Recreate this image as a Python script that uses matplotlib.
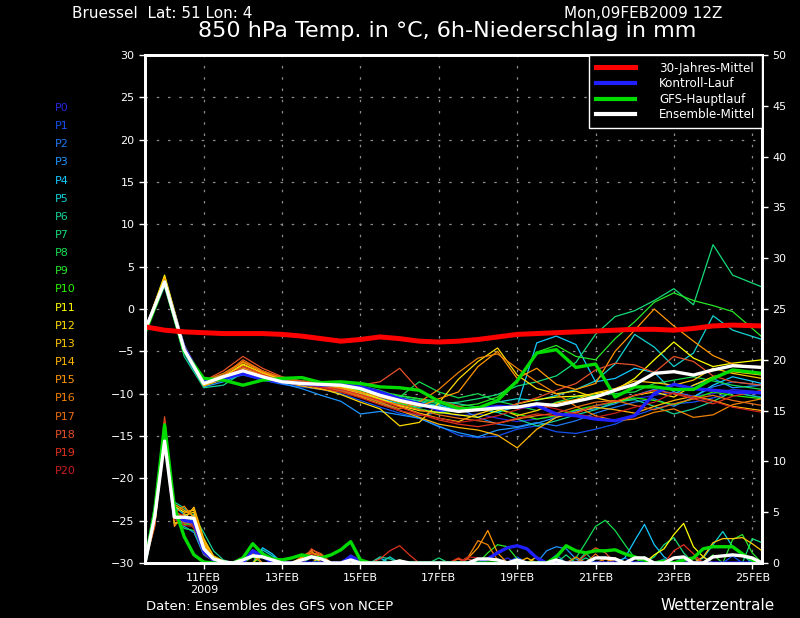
import numpy as np
import matplotlib
matplotlib.use("Agg")
import matplotlib.pyplot as plt
from matplotlib.lines import Line2D

# time axis: hours after Mon 09FEB2009 12Z
hours = np.append(np.arange(0, 361, 12), 378)
rain_hours = np.arange(0, 379, 6)
tick_hours = [36, 84, 132, 180, 228, 276, 324, 372]
tick_labels = ["11FEB\n2009", "13FEB", "15FEB", "17FEB", "19FEB", "21FEB", "23FEB", "25FEB"]

member_names = ["P%d" % i for i in range(21)]
member_colors = ["#2828dc", "#1450f0", "#1e78f0", "#1e96ff", "#14c8ff", "#14d2d2", "#14d296",
                 "#14dc78", "#14dc50", "#28e628", "#28f000", "#ffff00", "#ffdc00", "#ffc800",
                 "#ffb400", "#ff9600", "#f08200", "#eb6e14", "#e65028", "#e1321e", "#c81e1e"]

# 850 hPa temperature (deg C) of the ensemble members
ens_temp = [
    [-2.5, 3.0, -4.5, -8.9, -8.2, -7.5, -8.2, -8.7, -9.0, -9.3, -9.5, -9.8, -10.5, -11.0, -11.8, -12.2, -12.6, -12.4, -12.9, -13.3, -13.0, -12.7, -12.0, -11.5, -11.0, -10.6, -10.2, -9.8, -10.3, -10.0, -9.5, -9.8],
    [-2.6, 2.8, -4.2, -9.0, -8.4, -7.8, -8.4, -8.9, -9.2, -9.5, -10.0, -10.8, -11.6, -12.3, -12.9, -13.8, -14.9, -15.2, -15.0, -14.2, -13.8, -14.5, -14.7, -14.2, -13.6, -12.6, -11.8, -11.2, -11.0, -10.5, -9.9, -10.4],
    [-2.4, 3.1, -4.6, -8.7, -8.1, -7.2, -7.9, -8.5, -8.9, -9.2, -9.6, -10.2, -11.0, -12.0, -12.6, -12.2, -11.7, -12.8, -13.6, -13.9, -13.4, -13.8, -13.2, -12.3, -11.6, -11.0, -10.6, -11.5, -10.4, -9.2, -8.6, -9.0],
    [-2.5, 2.9, -5.2, -9.2, -8.6, -7.6, -8.3, -8.8, -9.4, -10.2, -10.9, -12.4, -12.1, -12.5, -12.9, -13.9, -14.6, -15.1, -14.3, -14.0, -13.5, -12.8, -12.0, -11.8, -11.2, -10.2, -9.5, -10.0, -9.0, -8.2, -9.3, -9.0],
    [-2.4, 3.3, -4.9, -9.0, -8.3, -7.0, -7.8, -8.6, -9.0, -9.1, -9.4, -10.0, -10.6, -11.2, -11.6, -11.3, -12.0, -11.8, -12.2, -11.5, -4.0, -3.2, -4.2, -8.6, -8.2, -7.0, -7.5, -9.8, -10.4, -9.0, -8.0, -8.8],
    [-2.5, 3.4, -4.7, -8.5, -7.8, -7.1, -7.9, -8.4, -8.6, -8.8, -9.1, -9.6, -10.1, -10.5, -10.9, -11.5, -12.0, -11.6, -11.0, -10.6, -10.8, -10.2, -9.5, -8.5, -6.5, -3.0, -4.5, -6.8, -5.2, -0.8, -2.5, -3.6],
    [-2.6, 3.0, -5.6, -9.3, -9.0, -7.5, -8.1, -8.7, -8.8, -8.6, -8.9, -9.4, -9.9, -10.3, -10.6, -10.9, -11.2, -11.6, -12.2, -13.0, -13.8, -13.2, -12.5, -11.9, -11.0, -10.7, -11.5, -12.4, -11.8, -10.9, -9.8, -10.5],
    [-2.5, 3.1, -4.9, -8.8, -7.9, -7.0, -7.8, -8.4, -8.7, -8.9, -9.1, -9.5, -10.0, -10.5, -10.8, -11.2, -11.0, -10.6, -10.1, -9.1, -8.6, -7.9, -6.3, -3.0, -0.9, -0.2, 1.0, 2.4, 0.5, 7.6, 4.0, 2.6],
    [-2.4, 3.2, -4.5, -8.6, -8.0, -7.4, -8.1, -8.5, -8.6, -8.7, -8.8, -9.1, -9.6, -10.4, -8.6, -9.8, -10.5, -10.0, -10.9, -11.4, -12.0, -11.0, -10.4, -10.2, -10.0, -9.8, -8.8, -8.4, -8.0, -8.5, -9.0, -9.5],
    [-2.5, 3.0, -4.7, -8.7, -8.0, -7.2, -7.8, -8.3, -8.5, -8.7, -8.9, -9.3, -9.8, -10.2, -10.6, -11.1, -11.5, -11.2, -10.4, -8.4, -5.1, -4.3, -5.6, -6.0, -3.5, -1.5, 0.8, 1.9, 1.0, 0.4, -0.3, -3.3],
    [-2.5, 3.0, -4.7, -8.9, -8.1, -7.2, -7.9, -8.4, -8.8, -9.0, -9.2, -9.6, -10.3, -11.1, -11.8, -12.3, -12.0, -11.5, -11.9, -12.4, -13.0, -12.6, -11.9, -11.4, -11.0, -10.5, -10.8, -11.3, -10.6, -9.8, -10.2, -10.6],
    [-2.5, 4.0, -4.3, -9.0, -8.0, -6.5, -7.6, -8.3, -8.6, -8.9, -9.2, -9.8, -10.6, -11.4, -12.0, -12.2, -12.5, -12.8, -12.0, -11.2, -10.7, -10.4, -10.3, -10.0, -9.6, -8.2, -6.0, -3.9, -5.8, -6.8, -6.4, -6.0],
    [-2.5, 3.6, -4.4, -8.7, -7.9, -6.8, -7.7, -8.4, -8.8, -9.4, -10.1, -11.0, -11.8, -13.8, -13.4, -11.1, -8.3, -6.2, -4.6, -7.8, -9.4, -10.0, -9.7, -10.5, -11.0, -10.2, -9.8, -10.4, -9.0, -8.0, -7.4, -7.8],
    [-2.4, 3.8, -4.6, -8.8, -8.1, -6.6, -7.5, -8.3, -8.7, -9.1, -9.4, -10.0, -10.7, -11.5, -12.3, -12.9, -13.3, -12.4, -11.7, -12.6, -12.0, -11.1, -10.7, -9.9, -9.4, -8.5, -8.7, -9.0, -8.4, -7.0, -7.6, -8.2],
    [-2.6, 3.5, -4.9, -9.1, -8.3, -7.0, -7.8, -8.6, -9.1, -9.5, -9.8, -10.4, -11.2, -12.0, -12.8, -13.6, -14.0, -14.3, -14.9, -16.4, -14.2, -12.8, -12.2, -11.6, -11.9, -12.3, -11.5, -10.8, -10.3, -10.8, -11.5, -12.0],
    [-2.5, 3.6, -4.5, -8.6, -7.8, -6.3, -7.4, -8.2, -8.7, -9.0, -9.3, -9.8, -10.4, -11.0, -11.5, -10.6, -9.8, -6.8, -5.0, -8.2, -7.0, -8.9, -9.5, -8.8, -5.0, -2.5, 0.0, -2.0, -3.8, -5.5, -6.5, -7.0],
    [-2.5, 3.4, -4.3, -8.5, -7.6, -6.2, -7.3, -8.1, -8.6, -9.0, -9.5, -10.2, -11.0, -11.8, -11.0, -9.5, -7.5, -5.8, -5.3, -7.0, -8.6, -10.0, -11.5, -12.6, -13.2, -13.0, -12.2, -11.8, -12.8, -12.5, -11.3, -10.6],
    [-2.6, 3.3, -4.7, -8.8, -7.9, -6.0, -7.3, -8.2, -8.7, -9.2, -9.7, -10.3, -10.9, -11.3, -11.9, -12.5, -12.9, -13.2, -13.5, -13.0, -12.6, -12.3, -11.6, -11.0, -10.8, -11.4, -11.9, -11.2, -10.6, -10.2, -10.8, -11.4],
    [-2.5, 3.3, -4.4, -8.5, -7.3, -5.6, -7.0, -8.0, -8.5, -8.7, -8.9, -9.0, -8.6, -7.0, -9.6, -10.8, -11.5, -12.0, -11.8, -11.2, -10.5, -9.6, -8.8, -7.2, -6.4, -6.6, -7.5, -5.6, -6.2, -7.9, -8.6, -9.0],
    [-2.4, 3.2, -4.8, -8.9, -8.1, -6.8, -7.7, -8.5, -8.9, -9.2, -9.5, -10.1, -10.8, -11.6, -12.4, -13.1, -13.6, -13.9, -13.5, -12.9, -12.4, -12.6, -12.3, -11.4, -10.9, -10.2, -9.6, -10.0, -10.6, -11.2, -10.3, -9.6],
    [-2.5, 3.1, -4.6, -8.6, -8.0, -7.1, -7.9, -8.5, -8.9, -9.3, -9.8, -10.5, -11.3, -12.0, -12.5, -12.9, -13.4, -13.1, -12.6, -11.9, -11.3, -11.8, -12.4, -12.8, -12.3, -11.6, -11.0, -9.9, -10.4, -10.9, -11.6, -12.2],
]
control_temp = [-2.5, 3.0, -4.6, -8.6, -8.2, -7.6, -8.3, -8.6, -8.8, -9.0, -8.9, -9.2, -9.8, -10.6, -11.2, -11.9, -11.9, -11.8, -11.5, -11.6, -11.4, -12.4, -12.6, -13.0, -13.2, -12.6, -10.0, -8.9, -9.4, -9.6, -9.8, -9.9]
main_temp = [-2.8, 3.1, -5.0, -8.2, -8.4, -9.0, -8.4, -8.2, -8.1, -8.7, -8.6, -8.8, -9.2, -9.3, -9.6, -10.9, -11.8, -11.7, -10.8, -8.5, -5.2, -4.8, -6.9, -6.5, -10.4, -9.2, -9.2, -9.5, -9.5, -8.2, -7.2, -7.6]
mean_temp = [-2.5, 3.2, -4.8, -8.8, -8.0, -7.3, -8.0, -8.6, -8.8, -8.9, -9.0, -9.4, -10.2, -10.8, -11.3, -11.7, -12.1, -11.9, -11.7, -11.6, -11.2, -11.4, -10.9, -10.4, -9.6, -8.9, -7.6, -7.4, -7.8, -7.2, -6.7, -6.9]
clim_temp = [-2.1, -2.5, -2.7, -2.8, -2.9, -2.9, -2.9, -3.0, -3.2, -3.5, -3.8, -3.6, -3.3, -3.5, -3.8, -3.9, -3.8, -3.6, -3.3, -3.0, -2.9, -2.8, -2.7, -2.6, -2.5, -2.4, -2.4, -2.5, -2.3, -2.0, -1.9, -2.0]

# 6h precipitation (mm): first 48 h every 6 h, later only the non-zero values
ens_rain_early = [
    [0, 4.8, 12.5, 4.2, 4.4, 3.8, 1.2, 0.3, 0.1],
    [0, 5.3, 13.0, 4.5, 4.0, 3.6, 1.0, 0.2, 0.0],
    [0, 4.5, 12.0, 3.8, 4.6, 4.2, 1.4, 0.4, 0.1],
    [0, 5.0, 12.8, 5.0, 3.6, 3.0, 0.8, 0.2, 0.0],
    [0, 4.2, 11.8, 5.5, 4.8, 4.0, 1.6, 0.5, 0.1],
    [0, 5.5, 13.2, 4.8, 4.0, 4.8, 2.0, 0.6, 0.2],
    [0, 4.6, 12.4, 6.0, 5.4, 4.6, 3.0, 1.2, 0.3],
    [0, 5.0, 13.5, 5.2, 4.2, 3.5, 1.1, 0.3, 0.1],
    [0, 5.8, 13.8, 4.6, 3.4, 3.2, 0.9, 0.2, 0.0],
    [0, 5.2, 13.0, 5.0, 4.5, 4.3, 1.3, 0.4, 0.1],
    [0, 4.9, 12.6, 4.0, 3.8, 3.9, 1.2, 0.3, 0.0],
    [0, 4.4, 12.2, 5.6, 5.0, 5.2, 2.2, 0.6, 0.1],
    [0, 4.7, 12.9, 4.4, 4.7, 5.0, 1.9, 0.5, 0.1],
    [0, 5.1, 13.4, 3.9, 4.3, 5.5, 2.4, 0.7, 0.2],
    [0, 3.8, 12.3, 5.8, 5.2, 4.6, 1.8, 0.4, 0.1],
    [0, 4.0, 13.1, 3.6, 4.9, 5.3, 2.1, 0.5, 0.1],
    [0, 4.3, 13.6, 4.9, 5.6, 4.4, 1.5, 0.4, 0.0],
    [0, 3.6, 13.9, 5.3, 4.1, 3.8, 1.3, 0.3, 0.0],
    [0, 4.1, 14.4, 4.7, 3.9, 4.1, 1.0, 0.2, 0.0],
    [0, 3.9, 14.0, 5.1, 4.6, 3.4, 1.1, 0.3, 0.1],
    [0, 4.4, 13.3, 4.3, 3.7, 3.6, 0.9, 0.2, 0.0],
]
ens_rain_late = [
    {66: 1.0, 72: 0.6, 102: 0.5, 126: 0.8, 132: 0.3, 222: 0.5, 288: 0.4, 342: 0.6},
    {66: 1.2, 72: 0.8, 126: 0.6, 228: 0.6, 294: 0.5, 360: 0.7},
    {72: 0.9, 102: 0.6, 252: 0.8, 318: 0.4},
    {66: 0.8, 72: 1.1, 246: 1.2, 252: 1.6, 258: 1.4, 264: 0.4, 330: 0.6},
    {72: 1.5, 78: 0.9, 144: 0.5, 294: 0.5, 300: 2.2, 306: 3.8, 312: 1.8, 318: 0.6},
    {72: 1.3, 78: 0.7, 150: 0.6, 342: 0.5, 348: 1.8, 354: 3.1, 360: 1.6, 366: 0.8},
    {66: 0.7, 144: 0.6, 150: 0.4, 270: 0.5},
    {108: 0.4, 180: 0.5, 258: 0.8, 270: 1.0, 312: 0.6, 318: 1.8, 324: 2.5, 330: 1.0, 372: 2.4, 378: 2.0},
    {102: 0.6, 264: 0.5, 270: 2.0, 276: 3.6, 282: 4.2, 288: 3.2, 294: 1.8, 300: 0.5},
    {66: 0.6, 210: 1.0, 216: 1.8, 222: 1.6, 228: 0.4, 348: 0.8, 360: 2.3, 366: 2.8, 372: 1.0},
    {72: 0.7, 156: 0.3, 306: 0.6, 336: 0.5},
    {66: 1.1, 72: 0.9, 312: 0.8, 318: 1.4, 324: 2.8, 330: 3.9, 336: 1.6, 342: 0.6},
    {66: 1.3, 72: 0.7, 102: 0.8, 240: 0.6, 288: 0.5},
    {72: 1.0, 108: 0.7, 342: 0.6, 348: 2.0, 354: 2.4, 360: 2.4, 366: 2.5, 372: 1.9, 378: 1.2},
    {66: 0.9, 96: 0.5, 102: 1.0, 108: 0.6, 234: 0.5},
    {96: 0.6, 102: 1.2, 198: 0.5, 204: 1.5, 210: 3.2, 216: 1.0, 282: 0.4},
    {102: 1.0, 108: 0.8, 198: 0.6, 204: 2.2, 210: 1.8, 216: 0.3, 264: 0.6},
    {66: 0.8, 102: 1.3, 108: 0.9, 192: 0.4, 276: 0.9},
    {102: 1.4, 108: 0.7, 198: 0.4, 270: 0.8, 276: 1.5, 282: 1.0, 336: 0.6},
    {144: 0.4, 150: 1.2, 156: 1.7, 162: 0.8, 192: 0.5, 324: 1.2, 330: 1.8, 336: 0.9},
    {102: 0.9, 108: 0.5, 198: 0.6, 204: 0.5},
]
control_rain_early = [0, 5.0, 12.8, 4.6, 4.2, 4.0, 1.1, 0.3, 0.0]
control_rain_late = {66: 1.2, 72: 0.7, 126: 0.6, 210: 0.4, 216: 1.0, 222: 1.5, 228: 1.7, 234: 1.4, 240: 0.5}
main_rain_early = [0, 5.2, 13.6, 5.5, 2.6, 0.8, 0.1, 0.0, 0.0]
main_rain_late = {60: 0.5, 66: 1.9, 72: 0.9, 78: 0.4, 84: 0.3, 90: 0.5, 96: 0.8, 102: 0.6, 108: 0.5,
                  114: 0.8, 120: 1.3, 126: 2.1, 132: 0.3, 252: 0.6, 258: 1.7, 264: 1.2, 270: 1.0,
                  276: 1.2, 282: 1.2, 288: 1.3, 294: 0.9, 300: 0.6, 306: 0.3, 318: 0.2, 330: 0.3,
                  336: 0.5, 342: 1.4, 348: 1.6, 354: 1.6, 360: 1.6, 366: 0.9, 372: 0.3}
mean_rain_early = [0, 4.6, 12.0, 4.5, 4.5, 4.4, 1.4, 0.4, 0.1]
mean_rain_late = {60: 0.3, 66: 0.7, 72: 0.6, 78: 0.3, 96: 0.3, 102: 0.6, 108: 0.4, 126: 0.3,
                  156: 0.2, 204: 0.4, 210: 0.4, 216: 0.3, 228: 0.3, 252: 0.3, 276: 0.5, 282: 0.5,
                  288: 0.4, 300: 0.5, 306: 0.5, 324: 0.5, 330: 0.6, 348: 0.6, 354: 0.7, 360: 0.8,
                  366: 0.7, 372: 0.5}


def rain_series(early, late):
    s = np.zeros(len(rain_hours))
    s[:len(early)] = early
    for h, v in late.items():
        s[h // 6] = v
    return s


fig = plt.figure(figsize=(8, 6.18), dpi=100, facecolor="black")
ax = fig.add_axes([0.18125, 0.089, 0.77125, 0.822])
ax.set_facecolor("black")
ax2 = ax.twinx()

for i in range(21):
    ax.plot(hours, ens_temp[i], color=member_colors[i], lw=0.9)
    ax2.plot(rain_hours, rain_series(ens_rain_early[i], ens_rain_late[i]), color=member_colors[i], lw=0.9)

ax.plot(hours, control_temp, color="#2020ff", lw=2.4)
ax.plot(hours, main_temp, color="#00dc00", lw=2.4)
ax.plot(hours, mean_temp, color="white", lw=2.4)
ax.plot(hours, clim_temp, color="#ff0000", lw=3.6)

ax2.plot(rain_hours, rain_series(control_rain_early, control_rain_late), color="#2020ff", lw=2.4)
ax2.plot(rain_hours, rain_series(main_rain_early, main_rain_late), color="#00dc00", lw=2.4)
ax2.plot(rain_hours, rain_series(mean_rain_early, mean_rain_late), color="white", lw=2.4)

ax.set_xlim(0, 378)
ax.set_ylim(-30, 30)
ax2.set_ylim(0, 50)
ax.set_xticks(tick_hours)
ax.set_xticklabels(tick_labels)
ax.set_yticks(np.arange(-30, 31, 5))
ax2.set_yticks(np.arange(0, 51, 5))

ax.grid(True, color="#8c8c8c", linestyle=(0, (2, 7)), linewidth=0.9)
ax2.grid(False)
for a in (ax, ax2):
    for sp in a.spines.values():
        sp.set_color("white")
        sp.set_linewidth(2)
    a.tick_params(colors="white", labelsize=8, length=4, width=1, direction="out")

handles = [Line2D([], [], color="#ff0000", lw=3.6),
           Line2D([], [], color="#2020ff", lw=3),
           Line2D([], [], color="#00dc00", lw=3),
           Line2D([], [], color="white", lw=3)]
leg = ax2.legend(handles, ["30-Jahres-Mittel", "Kontroll-Lauf", "GFS-Hauptlauf", "Ensemble-Mittel"],
                 loc="upper right", borderaxespad=0, fontsize=8.6, labelcolor="white",
                 facecolor="black", edgecolor="white", framealpha=1, fancybox=False,
                 handlelength=3.3, handletextpad=2.0, borderpad=0.55, labelspacing=0.22)
leg.get_frame().set_linewidth(1)

for i in range(21):
    fig.text(55 / 800, 1 - (108 + 18.15 * i) / 618, member_names[i], color=member_colors[i],
             fontsize=8, va="center")

fig.text(72 / 800, 1 - 13 / 618, "Bruessel  Lat: 51 Lon: 4", color="white", fontsize=11, va="center")
fig.text(722 / 800, 1 - 13 / 618, "Mon,09FEB2009 12Z", color="white", fontsize=11, va="center", ha="right")
fig.text(447 / 800, 1 - 31 / 618, "850 hPa Temp. in °C, 6h-Niederschlag in mm", color="white",
         fontsize=16, va="center", ha="center")
fig.text(146 / 800, 1 - 607 / 618, "Daten: Ensembles des GFS von NCEP", color="white", fontsize=9.5, va="center")
fig.text(775 / 800, 1 - 606 / 618, "Wetterzentrale", color="white", fontsize=11, va="center", ha="right")

fig.savefig("out.png", dpi=100, facecolor="black")
